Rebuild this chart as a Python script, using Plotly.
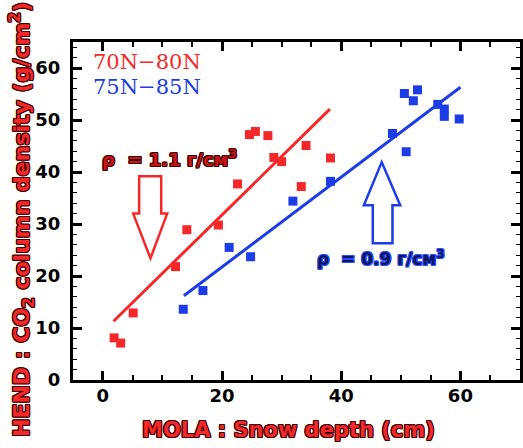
import plotly.graph_objects as go

# ---- data ----
red_x = [1.9, 3.0, 5.1, 12.2, 14.1, 19.4, 22.6, 24.6, 25.6, 27.7, 28.7, 30.0, 34.1, 33.3, 38.2]
red_y = [8.1, 7.1, 12.9, 21.8, 28.9, 29.8, 37.7, 47.2, 47.8, 47.0, 42.8, 42.0, 45.1, 37.2, 42.7]
blue_x = [13.5, 16.8, 21.2, 24.8, 31.9, 38.2, 48.6, 50.9, 50.6, 52.8, 52.1, 56.2, 57.3, 57.3, 59.8]
blue_y = [13.6, 17.2, 25.5, 23.7, 34.4, 38.2, 47.4, 43.9, 55.1, 55.8, 53.7, 53.0, 52.1, 50.7, 50.2]
red_fit_x = [1.8, 38.1]
red_fit_y = [11.3, 52.1]
blue_fit_x = [13.6, 60.0]
blue_fit_y = [16.2, 56.3]
x_ticks = [0, 20, 40, 60]
y_ticks = [0, 10, 20, 30, 40, 50, 60]

RED = "#f42828"
BLUE = "#1c3ce8"

fig = go.Figure()
fig.add_trace(go.Scatter(x=red_fit_x, y=red_fit_y, mode="lines",
                         line=dict(color=RED, width=3), showlegend=False))
fig.add_trace(go.Scatter(x=blue_fit_x, y=blue_fit_y, mode="lines",
                         line=dict(color=BLUE, width=3), showlegend=False))
fig.add_trace(go.Scatter(x=red_x, y=red_y, mode="markers",
                         marker=dict(symbol="square", size=9, color=RED), showlegend=False))
fig.add_trace(go.Scatter(x=blue_x, y=blue_y, mode="markers",
                         marker=dict(symbol="square", size=9, color=BLUE), showlegend=False))

# hollow arrows
red_arrow = "M 6.1,39.2 L 9.8,39.2 L 9.8,32 L 10.8,32 L 8,23.4 L 5.1,32 L 6.1,32 Z"
blue_arrow = "M 45.3,26.3 L 48.6,26.3 L 48.6,33.6 L 49.9,33.6 L 46.8,41.9 L 43.8,33.6 L 45.3,33.6 Z"
fig.add_shape(type="path", path=red_arrow, xref="x", yref="y",
              line=dict(color=RED, width=2.5), fillcolor="rgba(0,0,0,0)")
fig.add_shape(type="path", path=blue_arrow, xref="x", yref="y",
              line=dict(color=BLUE, width=2.5), fillcolor="rgba(0,0,0,0)")


def outline(c, w=1):
    offs = [(-w, -w), (w, -w), (-w, w), (w, w), (0, w), (0, -w), (w, 0), (-w, 0)]
    return ", ".join(f"{a}px {b}px 0 {c}" for a, b in offs)


FONT = "DejaVu Sans"

fig.add_annotation(x=11.2, y=42.6, xref="x", yref="y", showarrow=False,
                   text="ρ  = 1.1 г/см<sup>3</sup>",
                   font=dict(family=FONT, size=18, color="#c81414", weight="bold",
                             shadow=outline("#3a0000")))
fig.add_annotation(x=46.6, y=23.4, xref="x", yref="y", showarrow=False,
                   text="ρ  = 0.9 г/см<sup>3</sup>",
                   font=dict(family=FONT, size=17, color="#0c1660", weight="bold",
                             shadow=outline("#2a4cff")))

# legend-like labels
fig.add_annotation(x=0.04, y=0.94, xref="paper", yref="paper", xanchor="left", yanchor="middle",
                   showarrow=False, text="70N−80N",
                   font=dict(family="DejaVu Serif", size=21, color=RED))
fig.add_annotation(x=0.04, y=0.868, xref="paper", yref="paper", xanchor="left", yanchor="middle",
                   showarrow=False, text="75N−85N",
                   font=dict(family="DejaVu Serif", size=21, color=BLUE))

# axis titles
fig.add_annotation(x=(288 - 73) / 447, y=-(430 - 380) / 338, xref="paper", yref="paper",
                   xanchor="center", yanchor="middle",
                   showarrow=False, text="MOLA : Snow depth (cm)",
                   font=dict(family=FONT, size=21, color=RED, weight="bold",
                             shadow=outline("#3a0000")))
fig.add_annotation(x=-(73 - 22) / 447, y=(380 - 220) / 338, xref="paper", yref="paper",
                   xanchor="center", yanchor="middle",
                   showarrow=False, textangle=-90,
                   text="HEND : CO<sub>2</sub> column density (g/cm<sup>2</sup>)",
                   font=dict(family=FONT, size=22, color=RED, weight="bold",
                             shadow=outline("#3a0000")))

axis_common = dict(showgrid=False, zeroline=False, showline=True, linecolor="black",
                   linewidth=3, mirror="ticks", ticks="inside", ticklen=9, tickwidth=2.5,
                   tickcolor="black", automargin=False,
                   tickfont=dict(family=FONT, size=18, color="black", weight="bold"))

fig.update_xaxes(range=[-5, 70], tickvals=x_ticks, ticktext=[str(v) for v in x_ticks],
                 ticklabelstandoff=-3,
                 minor=dict(dtick=5, tick0=0, ticks="inside", ticklen=5, tickwidth=1.5,
                            tickcolor="black"),
                 **axis_common)
fig.update_yaxes(range=[0, 65], tickvals=y_ticks, ticktext=[str(v) for v in y_ticks],
                 ticklabelstandoff=6,
                 minor=dict(dtick=2, tick0=0, ticks="inside", ticklen=4, tickwidth=1.2,
                            tickcolor="black"),
                 **axis_common)

fig.update_layout(width=523, height=448, margin=dict(l=73, r=3, t=42, b=68),
                  plot_bgcolor="white", paper_bgcolor="white", showlegend=False)

fig.write_html("out.html", config={"displayModeBar": False},
               post_script="document.body.style.margin='0';document.body.style.overflow='hidden';")
